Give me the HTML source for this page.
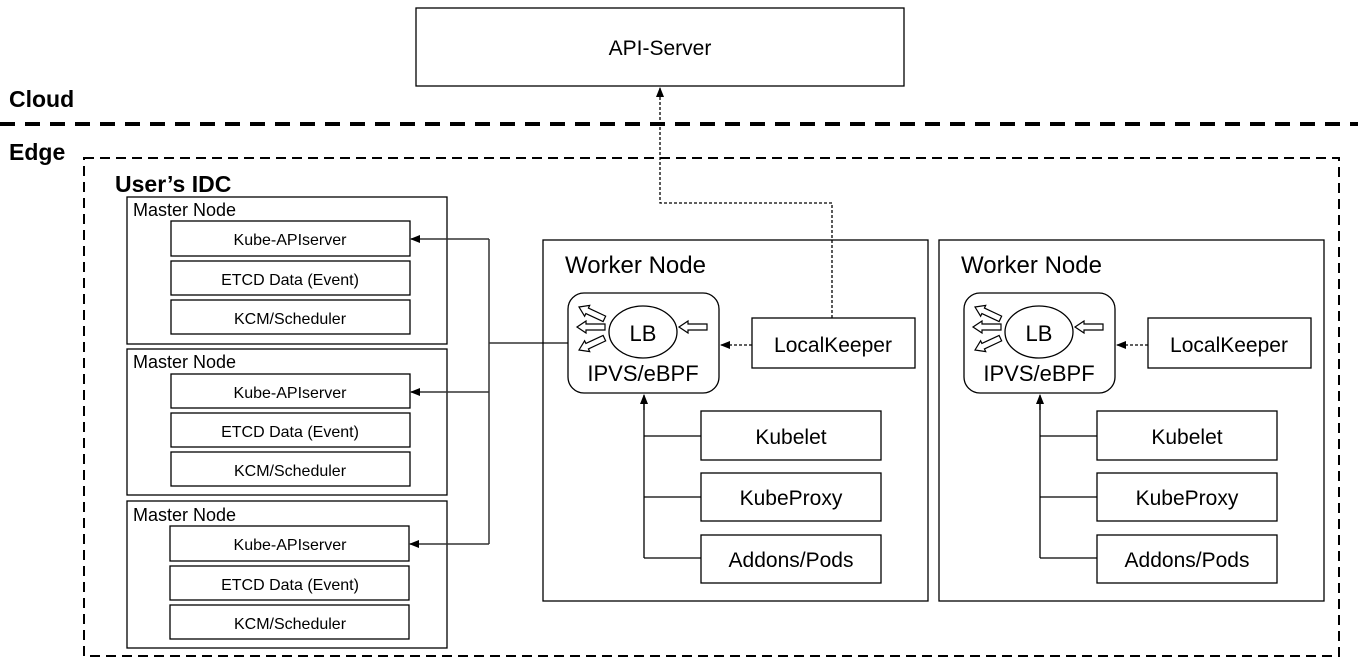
<!DOCTYPE html>
<html><head><meta charset="utf-8"><style>
html,body{margin:0;padding:0;background:#fff;}
svg{display:block;}
text{font-family:"Liberation Sans","Noto Sans CJK SC",sans-serif;fill:#000;}
</style></head><body>
<svg width="1358" height="666" viewBox="0 0 1358 666" xmlns="http://www.w3.org/2000/svg">
<defs>
<marker id="ah" markerWidth="10" markerHeight="10" refX="9" refY="5" orient="auto" markerUnits="userSpaceOnUse"><path d="M0,1 L10,5 L0,9 z" fill="#000"/></marker>
<g id="ha"><polygon points="0,0 9,-6 9,-3 28,-3 28,3 9,3 9,6" fill="#fff" stroke="#000" stroke-width="1.2"/></g>
</defs>
<g fill="none" stroke="#000" stroke-width="1.3">
<rect x="416" y="8" width="488" height="78"/>
</g>
<text x="660" y="55" font-size="21" text-anchor="middle">API-Server</text>
<text x="9" y="107" font-size="23" font-weight="bold">Cloud</text>
<line x1="0" y1="124" x2="1358" y2="124" stroke="#000" stroke-width="4" stroke-dasharray="15,10"/>
<text x="9" y="160" font-size="23" font-weight="bold">Edge</text>
<rect x="84" y="158" width="1255" height="498" fill="none" stroke="#000" stroke-width="2" stroke-dasharray="10,6"/>
<text x="115" y="192" font-size="23" font-weight="bold">User’s IDC</text>

<g fill="none" stroke="#000" stroke-width="1.3">
<rect x="127" y="197" width="320" height="147"/>
<rect x="171" y="221" width="239" height="35"/><rect x="171" y="261" width="239" height="34"/><rect x="171" y="300" width="239" height="34"/>
<rect x="127" y="349" width="320" height="146"/>
<rect x="171" y="374" width="239" height="34"/><rect x="171" y="413" width="239" height="34"/><rect x="171" y="452" width="239" height="34"/>
<rect x="127" y="501" width="320" height="147"/>
<rect x="170" y="526" width="239" height="35"/><rect x="170" y="566" width="239" height="34"/><rect x="170" y="605" width="239" height="34"/>
</g>
<g font-size="18"><text x="133" y="216">Master Node</text><text x="133" y="368">Master Node</text><text x="133" y="521">Master Node</text></g>
<g font-size="16" text-anchor="middle">
<text x="290" y="245">Kube-APIserver</text><text x="290" y="285">ETCD Data (Event)</text><text x="290" y="324">KCM/Scheduler</text>
<text x="290" y="398">Kube-APIserver</text><text x="290" y="437">ETCD Data (Event)</text><text x="290" y="476">KCM/Scheduler</text>
<text x="290" y="550">Kube-APIserver</text><text x="290" y="590">ETCD Data (Event)</text><text x="290" y="629">KCM/Scheduler</text>
</g>
<g fill="none" stroke="#333" stroke-width="1.5">
<path d="M489,239 V544 M489,343 H568"/>
<line x1="489" y1="239" x2="411" y2="239" marker-end="url(#ah)"/>
<line x1="489" y1="392" x2="411" y2="392" marker-end="url(#ah)"/>
<line x1="489" y1="544" x2="410" y2="544" marker-end="url(#ah)"/>
</g>
<path d="M832,318 V203 H660 V88" fill="none" stroke="#000" stroke-width="1.3" stroke-dasharray="3,2" marker-end="url(#ah)"/>

<!-- worker nodes -->
<g id="w1">
<g fill="none" stroke="#000" stroke-width="1.3">
<rect x="543" y="240" width="385" height="361"/>
<rect x="568" y="293" width="151" height="100" rx="16"/>
<ellipse cx="643" cy="332" rx="34" ry="26"/>
<rect x="752" y="318" width="163" height="50"/>
<rect x="701" y="411" width="180" height="49"/><rect x="701" y="473" width="180" height="48"/><rect x="701" y="535" width="180" height="48"/>
</g>
<text x="565" y="273" font-size="24">Worker Node</text>
<text x="643" y="341" font-size="22" text-anchor="middle">LB</text>
<text x="643" y="381" font-size="22" text-anchor="middle">IPVS/eBPF</text>
<text x="833" y="352" font-size="21" text-anchor="middle">LocalKeeper</text>
<g font-size="21" text-anchor="middle"><text x="791" y="444">Kubelet</text><text x="791" y="505">KubeProxy</text><text x="791" y="567">Addons/Pods</text></g>
<use href="#ha" x="577" y="327"/>
<use href="#ha" transform="translate(579,307) rotate(25)"/>
<use href="#ha" transform="translate(579,350) rotate(-25)"/>
<use href="#ha" x="679" y="327"/>
<line x1="752" y1="345" x2="721" y2="345" stroke="#000" stroke-width="1.3" stroke-dasharray="3,2" marker-end="url(#ah)"/>
<path d="M644,558 V397 M644,436 H701 M644,497 H701 M644,558 H701" fill="none" stroke="#000" stroke-width="1.3"/>
<line x1="644" y1="410" x2="644" y2="395" stroke="#000" stroke-width="1.3" marker-end="url(#ah)"/>
</g>
<use href="#w1" x="396" y="0"/>
</svg>
</body></html>
